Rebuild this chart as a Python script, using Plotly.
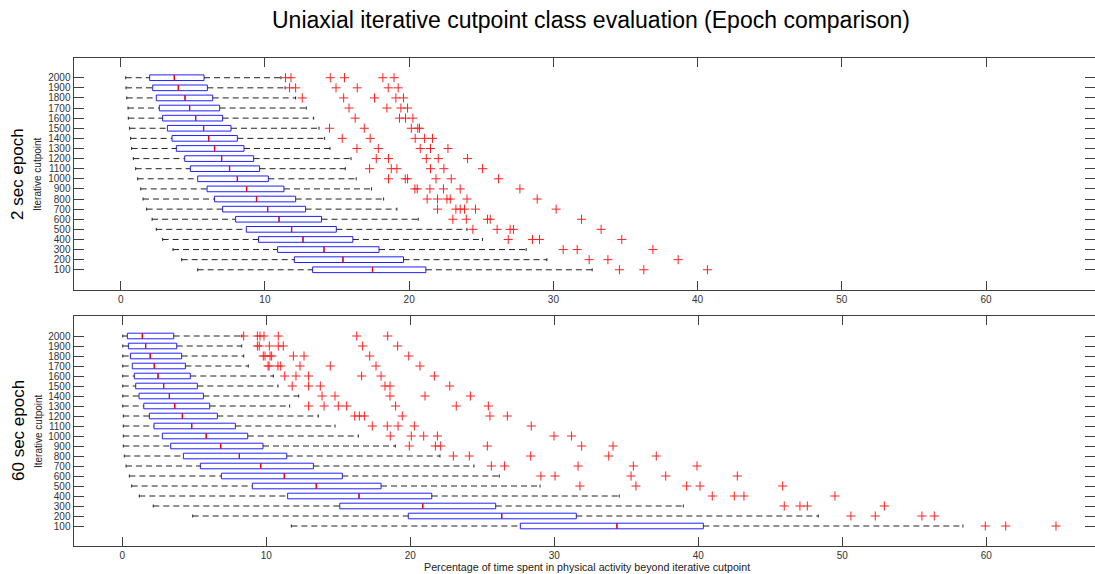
import plotly.graph_objects as go

# ---------------- data ----------------
categories = [str(c) for c in range(100, 2001, 100)]

# 2 sec epoch (top panel), ordered 100 .. 2000
sec2_wlow = [5.34, 4.23, 3.63, 2.91, 2.47, 2.18, 1.80, 1.55, 1.39, 1.18,
             1.04, 0.88, 0.76, 0.69, 0.62, 0.53, 0.51, 0.42, 0.37, 0.35]
sec2_q1 = [13.31, 12.04, 10.88, 9.56, 8.71, 7.97, 7.07, 6.51, 5.99, 5.34,
           4.83, 4.44, 3.86, 3.56, 3.24, 2.91, 2.68, 2.47, 2.22, 2.01]
sec2_med = [17.46, 15.41, 14.10, 12.64, 11.85, 10.98, 10.19, 9.42, 8.73, 8.09,
            7.55, 7.00, 6.51, 6.10, 5.75, 5.20, 4.78, 4.46, 4.00, 3.72]
sec2_q3 = [21.16, 19.61, 17.91, 16.10, 14.95, 13.93, 12.82, 12.13, 11.32, 10.24,
           9.63, 9.22, 8.55, 8.09, 7.65, 7.07, 6.86, 6.38, 6.01, 5.78]
sec2_whigh = [32.69, 29.55, 28.11, 25.09, 24.01, 20.63, 19.15, 18.23, 17.39, 16.33,
              15.57, 15.97, 14.51, 14.14, 13.75, 13.38, 12.87, 12.13, 11.40, 11.11]
sec2_outliers = [
    [34.58, 36.27, 40.68],
    [32.48, 33.78, 38.65],
    [30.68, 31.65, 36.90],
    [26.87, 28.55, 29.04, 34.74],
    [24.42, 26.10, 27.00, 27.23, 33.31],
    [23.03, 23.96, 25.43, 25.62, 31.95],
    [21.97, 23.24, 23.54, 23.84, 24.60, 30.19],
    [21.25, 21.97, 22.62, 22.85, 24.01, 28.88],
    [20.40, 20.56, 21.44, 22.38, 23.54, 27.68],
    [18.57, 19.73, 19.89, 21.86, 22.92, 26.20],
    [17.26, 18.76, 19.15, 21.48, 22.41, 25.09],
    [17.72, 18.57, 21.19, 22.02, 24.05],
    [16.38, 17.86, 20.77, 21.48, 22.69],
    [15.36, 17.30, 20.42, 21.07, 21.62],
    [14.48, 16.89, 20.15, 20.60, 20.72],
    [16.26, 19.33, 19.75, 20.26],
    [15.83, 18.46, 19.43, 19.89],
    [12.59, 15.46, 17.60, 19.08, 19.61],
    [11.71, 12.13, 14.93, 16.40, 18.55, 19.24],
    [11.43, 11.81, 14.53, 15.52, 18.18, 18.95],
]

# 60 sec epoch (bottom panel), ordered 100 .. 2000
sec60_wlow = [11.74, 4.89, 2.15, 1.18, 0.65, 0.49, 0.26, 0.14, 0.07, 0.07,
              0.07, 0.07, 0.03, 0.03, 0.03, 0.03, 0.03, 0.03, 0.03, 0.03]
sec60_q1 = [27.64, 19.86, 15.10, 11.48, 9.03, 6.88, 5.42, 4.24, 3.36, 2.78,
            2.20, 1.88, 1.49, 1.16, 0.93, 0.83, 0.69, 0.56, 0.42, 0.35]
sec60_med = [34.35, 26.35, 20.86, 16.44, 13.47, 11.25, 9.61, 8.13, 6.83, 5.83,
             4.82, 4.17, 3.64, 3.27, 2.87, 2.48, 2.22, 1.94, 1.62, 1.39]
sec60_q3 = [40.35, 31.53, 25.93, 21.49, 17.97, 15.28, 13.27, 11.42, 9.77, 8.71,
            7.85, 6.60, 6.07, 5.63, 5.21, 4.72, 4.38, 4.12, 3.78, 3.57]
sec60_whigh = [58.38, 48.33, 38.96, 34.51, 29.01, 26.18, 24.42, 22.06, 18.96, 16.39,
               14.77, 13.61, 11.62, 12.25, 10.81, 10.49, 8.75, 8.43, 8.29, 8.30]
sec60_outliers = [
    [59.93, 61.35, 64.84],
    [50.60, 52.29, 55.53, 56.39],
    [45.97, 47.06, 47.57, 52.92],
    [40.97, 42.50, 43.17, 49.49],
    [31.78, 35.67, 39.19, 40.12, 45.86],
    [29.07, 30.05, 35.33, 37.74, 42.71],
    [25.63, 26.55, 31.65, 35.49, 39.91],
    [22.99, 24.10, 28.36, 33.78, 37.08],
    [19.93, 21.74, 22.11, 25.35, 31.90, 34.08],
    [18.61, 20.07, 20.93, 21.88, 29.98, 31.20],
    [17.36, 18.40, 19.15, 20.28, 28.40],
    [16.14, 16.46, 16.81, 19.44, 25.53, 26.74],
    [12.94, 14.01, 15.00, 15.58, 18.98, 23.19, 25.42],
    [13.87, 14.77, 18.59, 21.02, 24.17],
    [11.80, 12.94, 13.75, 18.24, 18.59, 22.74],
    [11.28, 12.06, 12.94, 16.62, 17.97, 21.67],
    [10.12, 10.19, 10.81, 11.00, 12.34, 14.44, 17.62, 20.67],
    [9.79, 9.91, 10.26, 10.37, 11.88, 12.62, 17.18, 19.89],
    [9.38, 9.51, 10.21, 10.83, 11.18, 16.69, 19.12],
    [8.43, 9.38, 9.56, 9.84, 10.83, 16.28, 18.43],
]

x_ticks = [0, 10, 20, 30, 40, 50, 60]

# ---------------- figure ----------------
W, H = 1095, 574
BOX_W = 0.56
CAP = 0.15
positions = list(range(1, len(categories) + 1))

fig = go.Figure()


def add_panel(wl, q1, med, q3, wh, outs, xa, ya):
    # boxes
    fig.add_trace(go.Box(
        orientation="h", y=positions, q1=q1, median=med, q3=q3,
        lowerfence=q1, upperfence=q3, width=BOX_W, whiskerwidth=0,
        boxpoints=False, line=dict(color="#2020FF", width=1),
        fillcolor="rgba(0,0,0,0)", xaxis=xa, yaxis=ya, hoverinfo="skip",
        showlegend=False))
    # whiskers (dashed)
    wx, wy = [], []
    for p, a, b, c, d in zip(positions, wl, q1, q3, wh):
        wx += [a, b, None, c, d, None]
        wy += [p, p, None, p, p, None]
    fig.add_trace(go.Scatter(x=wx, y=wy, mode="lines",
                             line=dict(color="#222222", width=1, dash="6px,4px"),
                             xaxis=xa, yaxis=ya, hoverinfo="skip", showlegend=False))
    # whisker caps
    cx, cy = [], []
    for p, a, d in zip(positions, wl, wh):
        cx += [a, a, None, d, d, None]
        cy += [p - CAP, p + CAP, None, p - CAP, p + CAP, None]
    fig.add_trace(go.Scatter(x=cx, y=cy, mode="lines",
                             line=dict(color="#222222", width=1),
                             xaxis=xa, yaxis=ya, hoverinfo="skip", showlegend=False))
    # medians
    mx, my = [], []
    for p, m in zip(positions, med):
        mx += [m, m, None]
        my += [p - BOX_W / 2, p + BOX_W / 2, None]
    fig.add_trace(go.Scatter(x=mx, y=my, mode="lines",
                             line=dict(color="#FF0000", width=1.3),
                             xaxis=xa, yaxis=ya, hoverinfo="skip", showlegend=False))
    # outliers
    ox, oy = [], []
    for p, o in zip(positions, outs):
        ox += o
        oy += [p] * len(o)
    fig.add_trace(go.Scatter(x=ox, y=oy, mode="markers",
                             marker=dict(symbol="cross-thin", size=6.5,
                                         line=dict(color="#FF2020", width=1)),
                             xaxis=xa, yaxis=ya, hoverinfo="skip", showlegend=False))


add_panel(sec2_wlow, sec2_q1, sec2_med, sec2_q3, sec2_whigh, sec2_outliers, "x", "y")
add_panel(sec60_wlow, sec60_q1, sec60_med, sec60_q3, sec60_whigh, sec60_outliers, "x2", "y2")

x0 = 73.5 / W
frame = "#404040"
font_main = "Liberation Sans, Arial, sans-serif"
tickfont = dict(family=font_main, size=10, color="#333333")

common_x = dict(domain=[x0, 1.0], tickvals=x_ticks, ticktext=[str(t) for t in x_ticks],
                showgrid=False, zeroline=False, showline=True, linecolor=frame,
                linewidth=1, mirror="ticks", ticks="inside", ticklen=9,
                tickcolor=frame, tickfont=tickfont, automargin=False)
common_y = dict(tickvals=positions, ticktext=categories, range=[-1, 22],
                showgrid=False, zeroline=False, showline=True, linecolor=frame,
                linewidth=1, mirror="ticks", ticks="inside", ticklen=10,
                tickcolor=frame, tickfont=dict(family=font_main, size=10, color="#333333"),
                automargin=False)

fig.update_layout(
    width=W, height=H,
    template="none",
    paper_bgcolor="white", plot_bgcolor="white",
    margin=dict(l=0, r=0, t=0, b=0),
    showlegend=False,
    hovermode=False,
    xaxis=dict(common_x, range=[-3.27, 67.55], anchor="y"),
    yaxis=dict(common_y, domain=[1 - 290 / H, 1 - 57.5 / H], anchor="x"),
    xaxis2=dict(common_x, range=[-3.39, 67.55], anchor="y2"),
    yaxis2=dict(common_y, domain=[1 - 546 / H, 1 - 316 / H], anchor="x2"),
)

annots = [
    dict(text="Uniaxial iterative cutpoint class evaluation (Epoch comparison)",
         x=591 / W, y=1 - 20 / H, font=dict(size=23, family=font_main, color="#000000"),
         textangle=0),
    dict(text="2 sec epoch", x=18 / W, y=1 - 174 / H,
         font=dict(size=17, family=font_main, color="#000000"), textangle=-90),
    dict(text="Iterative cutpoint", x=38 / W, y=1 - 174 / H,
         font=dict(size=10, family=font_main, color="#222222"), textangle=-90),
    dict(text="60 sec epoch", x=18 / W, y=1 - 431 / H,
         font=dict(size=17, family=font_main, color="#000000"), textangle=-90),
    dict(text="Iterative cutpoint", x=38 / W, y=1 - 431 / H,
         font=dict(size=10, family=font_main, color="#222222"), textangle=-90),
    dict(text="Percentage of time spent in physical activity beyond iterative cutpoint",
         x=587 / W, y=1 - 567 / H, font=dict(size=10.7, family=font_main, color="#222222"),
         textangle=0),
]
for a in annots:
    fig.add_annotation(xref="paper", yref="paper", showarrow=False,
                       xanchor="center", yanchor="middle", **a)

fig.write_html("out.html")
